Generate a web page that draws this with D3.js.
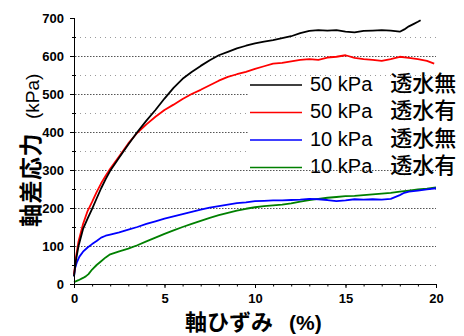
<!DOCTYPE html>
<html><head><meta charset="utf-8">
<script src="https://cdn.jsdelivr.net/npm/d3@7"></script>
<style>
html,body{margin:0;padding:0;background:#fff;}
svg{display:block;}
</style></head>
<body>
<svg id="chart" width="464" height="336"></svg>
<script>
// ---- data ----
const seriesPressure = ["50 kPa", "50 kPa", "10 kPa", "10 kPa"];
const seriesDrain = ["透水無", "透水有", "透水無", "透水有"];
const seriesColors = ["#000000", "#ff0000", "#0000ff", "#008000"];

const blackX = [0,0.1,0.25,0.5,0.75,1,1.25,1.5,1.75,2,2.5,3,3.5,4,4.5,5,5.5,6,6.5,7,7.5,8,8.5,9,9.5,10,10.5,11,11.5,12,12.5,13,13.5,14,14.5,15,15.5,16,16.5,17,17.5,18,18.25,18.5,18.75,19,19.15];
const blackY = [20,60,100,145,172,198,225,252,276,298,333,367,400,430,458,488,516,540,558,574,589,602,611,620,627,633,638,642,647,652,660,666,668,667,668,664,662,666,667,668,667,664,670,678,684,690,694];

const redX = [0,0.1,0.25,0.5,0.75,1,1.25,1.5,1.75,2,2.5,3,3.5,4,4.5,5,5.5,6,6.5,7,7.5,8,8.5,9,9.5,10,10.5,11,11.5,12,12.5,13,13.5,14,14.5,15,15.5,16,16.5,17,17.5,18,18.5,19,19.5,19.9];
const redY = [25,68,112,158,192,216,242,265,285,303,336,370,398,420,440,458,472,487,500,511,523,535,545,552,558,566,573,580,582,586,590,592,590,596,598,602,595,592,590,587,592,598,595,592,587,580];

const blueX = [0,0.05,0.15,0.3,0.5,0.75,1,1.25,1.5,1.75,2,2.5,3,3.5,4,4.5,5,5.5,6,6.5,7,7.5,8,8.5,9,9.5,10,10.5,11,11.5,12,12.5,13,13.5,14,14.5,15,15.5,16,16.5,17,17.5,18,18.25,18.5,19,19.5,20];
const blueY = [20,40,56,72,85,96,105,113,122,127,130,136,143,150,158,165,172,178,184,190,196,201,205,209,213,215,218,219,220,220,221,222,224,223,221,218,220,223,222,223,222,224,234,240,243,246,249,252];

const greenX = [0,0.25,0.5,0.65,0.8,1,1.25,1.5,1.75,2,2.5,3,3.5,4,4.5,5,5.5,6,6.5,7,7.5,8,8.5,9,9.5,10,10.5,11,11.5,12,12.5,13,13.5,14,14.5,15,15.5,16,16.5,17,17.5,18,18.5,19,19.5,20];
const greenY = [5,10,16,20,26,38,50,60,70,78,86,93,102,112,122,132,141,150,158,166,174,181,187,193,198,202,205,207,209,212,217,221,224,227,229,231,232,234,236,238,240,243,246,249,251,254];

const xTicks = [0,5,10,15,20];
const yTicks = [0,100,200,300,400,500,600,700];
const xTitle = ["軸ひずみ", "(%)"];
const yTitle = ["軸差応力", "(kPa)"];

// ---- layout ----
const svg = d3.select("#chart");
const mLeft = 74, mRight = 436, mTop = 18, mBottom = 284;
const x = d3.scaleLinear().domain([0,20]).range([mLeft,mRight]);
const y = d3.scaleLinear().domain([0,700]).range([mBottom,mTop]);

// grid lines
const gMinor = d3.range(50,700,100);
svg.append("g").selectAll("line").data(gMinor).join("line")
  .attr("x1", mLeft+1).attr("x2", mRight)
  .attr("y1", d=>y(d)+0.5).attr("y2", d=>y(d)+0.5)
  .attr("stroke", "#9a9a9a").attr("stroke-width", 1)
  .attr("stroke-dasharray", "1,4");
svg.append("g").selectAll("line").data(d3.range(100,700,100)).join("line")
  .attr("x1", mLeft+1).attr("x2", mRight)
  .attr("y1", d=>y(d)+0.5).attr("y2", d=>y(d)+0.5)
  .attr("stroke", "#555").attr("stroke-width", 1)
  .attr("stroke-dasharray", "1.5,1.5");

// legend background
svg.append("rect").attr("x", 248).attr("y", 76).attr("width", 216).attr("height", 93).attr("fill", "#fff");

// series
const series = [[blackX,blackY],[redX,redY],[blueX,blueY],[greenX,greenY]];
const line = d3.line().x(d=>x(d[0])).y(d=>y(d[1]));
[3,2,1,0].forEach(i=>{
  const pts = series[i][0].map((v,j)=>[v, series[i][1][j]]);
  svg.append("path").attr("d", line(pts)).attr("fill","none")
    .attr("stroke", seriesColors[i]).attr("stroke-width", 1.8)
    .attr("stroke-linejoin","round");
});

// axes
const xAxis = d3.axisBottom(x).tickValues(xTicks).tickSize(4).tickFormat(d3.format("d"));
const gx = svg.append("g").attr("transform", `translate(0,${mBottom})`).call(xAxis);
gx.select(".domain").attr("d", `M${mLeft},0.5H${mRight}`).attr("stroke","#000");
gx.selectAll(".tick text").attr("dy", "0.95em")
  .style("font-family", "'Liberation Sans', Arial, sans-serif")
  .style("font-size", "13px").style("font-weight", "bold").attr("fill","#000");
svg.append("g").selectAll("line").data(d3.range(1,20)).join("line")
  .attr("x1", d=>x(d)+0.5).attr("x2", d=>x(d)+0.5)
  .attr("y1", mBottom).attr("y2", mBottom+2.5).attr("stroke","#000");

const yAxis = d3.axisLeft(y).tickValues(yTicks).tickSize(4).tickPadding(6);
const gy = svg.append("g").attr("transform", `translate(${mLeft},0)`).call(yAxis);
gy.select(".domain").attr("d", `M0.5,${mBottom}V${mTop}`).attr("stroke","#000");
gy.selectAll(".tick text")
  .style("font-family", "'Liberation Sans', Arial, sans-serif")
  .style("font-size", "13px").style("font-weight", "bold").attr("fill","#000");
svg.append("g").selectAll("line").data(gMinor).join("line")
  .attr("x1", mLeft-2).attr("x2", mLeft+2)
  .attr("y1", d=>y(d)+0.5).attr("y2", d=>y(d)+0.5).attr("stroke","#000");

// axis titles
const xt = svg.append("text").attr("x", 185).attr("y", 330).attr("text-anchor","start")
  .style("font-weight","bold").attr("fill","#000");
xt.append("tspan").text(xTitle[0]).style("font-size","22px")
  .style("font-family", "'Noto Sans CJK JP', sans-serif");
xt.append("tspan").attr("dx", 16).text(xTitle[1]).style("font-size","21px")
  .style("font-family", "'Liberation Sans', Arial, sans-serif");

const yt = svg.append("text").attr("transform", "translate(39,227) rotate(-90)").attr("text-anchor","start")
  .attr("fill","#000");
yt.append("tspan").text(yTitle[0]).style("font-size","23px").style("font-weight","bold")
  .style("letter-spacing","0.5px").style("font-family", "'Noto Sans CJK JP', sans-serif");
yt.append("tspan").attr("dx", 14).text(yTitle[1]).style("font-size","19px")
  .style("font-family", "'Liberation Sans', Arial, sans-serif");

// legend
const rows = [85, 112.5, 140, 167.5];
seriesPressure.forEach((p,i)=>{
  svg.append("line").attr("x1", 250).attr("x2", 302)
    .attr("y1", rows[i]).attr("y2", rows[i])
    .attr("stroke", seriesColors[i]).attr("stroke-width", 1.5);
  const t = svg.append("text").attr("x", 310).attr("y", rows[i]).attr("dy", "0.36em").attr("fill","#000");
  t.append("tspan").text(p)
    .style("font-family", "'Liberation Sans', Arial, sans-serif").style("font-size", "20px");
  t.append("tspan").attr("dx", 18).text(seriesDrain[i])
    .style("font-family", "'Noto Sans CJK JP', sans-serif").style("font-size", "22px")
    .style("font-weight", "500");
});
</script>
</body></html>
